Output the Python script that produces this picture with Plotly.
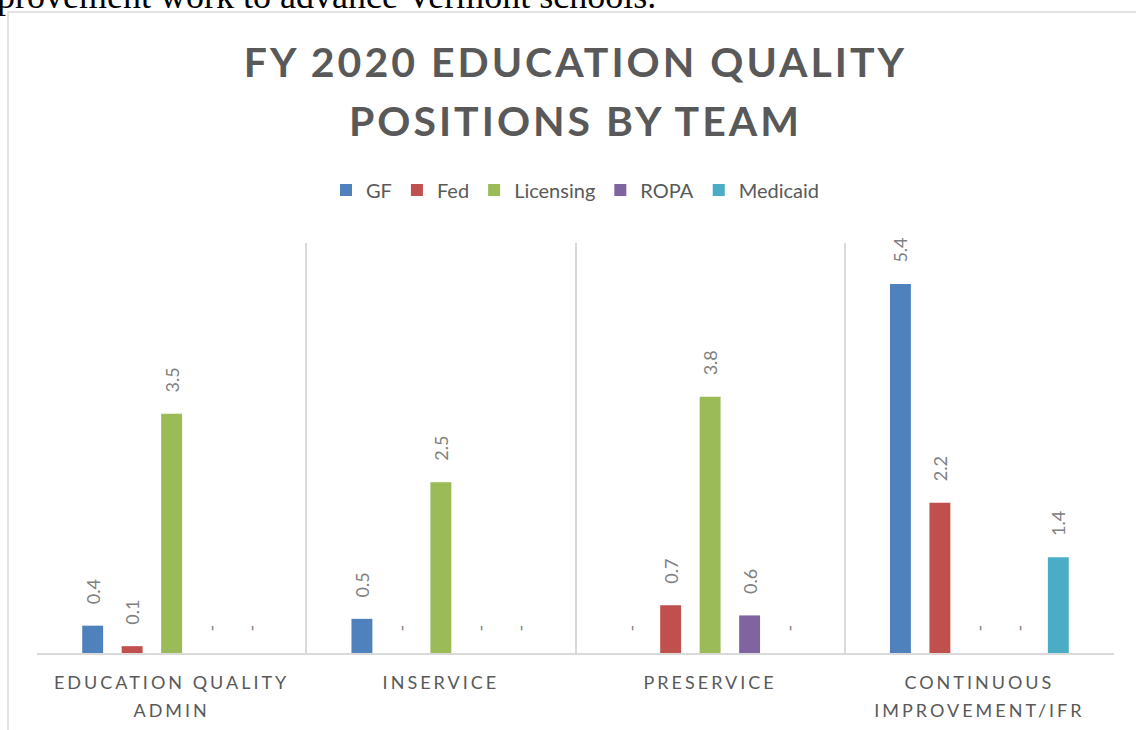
import plotly.graph_objects as go

categories = ["EDUCATION QUALITY<br>ADMIN", "INSERVICE", "PRESERVICE", "CONTINUOUS<br>IMPROVEMENT/IFR"]
series_names = ["GF", "Fed", "Licensing", "ROPA", "Medicaid"]
gf = [0.4, 0.5, 0.0, 5.4]
fed = [0.1, 0.0, 0.7, 2.2]
licensing = [3.5, 2.5, 3.75, 0.0]
ropa = [0.0, 0.0, 0.55, 0.0]
medicaid = [0.0, 0.0, 0.0, 1.4]
colors = ["#4F81BD", "#C0504D", "#9BBB59", "#8064A2", "#4BACC6"]

title_text = "FY 2020 EDUCATION QUALITY<br>POSITIONS BY TEAM"
context_text = "improvement work to advance Vermont schools."

FONT = "Lato"
PAD = "\u00a0" * 4

def label(v):
    return PAD + ("-" if v == 0 else f"{v:.1f}")

fig = go.Figure()
for name, vals, col in zip(series_names, [gf, fed, licensing, ropa, medicaid], colors):
    fig.add_trace(go.Bar(
        name=name, x=categories, y=vals,
        marker=dict(color=col, line=dict(width=0)),
        text=[label(v) for v in vals],
        textposition="outside", textangle=-90, constraintext="none",
        textfont=dict(family=FONT, size=18, color="#808080"),
        cliponaxis=False,
    ))

fig.update_layout(
    width=1136, height=730,
    margin=dict(l=37, r=22, t=243, b=77),
    paper_bgcolor="white", plot_bgcolor="white",
    barmode="group", bargap=0.267, bargroupgap=0.47,
    font=dict(family=FONT, color="#595959"),
    title=dict(text=title_text, x=0.5, xref="paper", xanchor="center",
               y=1 - 77 / 730, yref="container", yanchor="top",
               font=dict(family=FONT, size=41, color="#595959", weight="bold")),
    legend=dict(orientation="h", x=0.5, xanchor="center", y=1.129, yanchor="middle",
                font=dict(family=FONT, size=20, color="#595959"),
                bgcolor="rgba(0,0,0,0)"),
    xaxis=dict(tickson="boundaries", showgrid=True, gridcolor="#D9D9D9", gridwidth=2,
               showline=True, linecolor="#D9D9D9", linewidth=2,
               ticks="", ticklabelstandoff=12,
               tickfont=dict(family=FONT, size=18, color="#595959"),
               fixedrange=True),
    yaxis=dict(range=[0, 6], visible=False, fixedrange=True),
    showlegend=True,
)

# chart border (extends beyond the cropped picture on right and bottom)
fig.add_shape(type="rect", xref="paper", yref="paper",
              x0=-29 / 1077, x1=1.2, y0=-0.5, y1=(653 - 12) / 410,
              line=dict(color="#D9D9D9", width=1.5), fillcolor="rgba(0,0,0,0)", layer="below")

fig.add_annotation(text=context_text, xref="paper", yref="paper",
                   x=(658 - 37) / 1077, xanchor="right",
                   y=(653 - 18) / 410, yanchor="bottom", showarrow=False,
                   font=dict(family="Liberation Serif", size=36, color="black"))

post = """
document.body.style.margin = '0';
var gd = document.getElementById('{plot_id}');
function fixLines(sel, dy){
  gd.querySelectorAll(sel).forEach(function(s){
    var v = s.getAttribute('dy');
    if (v && parseFloat(v) > 0) { s.setAttribute('dy', dy); }
  });
}
function sp(){
  gd.querySelectorAll('.xtick text').forEach(function(t){t.style.letterSpacing='3px';});
  gd.querySelectorAll('.gtitle').forEach(function(t){t.style.letterSpacing='3px';});
  fixLines('.gtitle tspan.line', '1.44em');
  fixLines('.xtick tspan.line', '1.55em');
}
sp();
gd.on('plotly_afterplot', sp);
"""
fig.write_html("out.html", post_script=post, config={"displayModeBar": False})
